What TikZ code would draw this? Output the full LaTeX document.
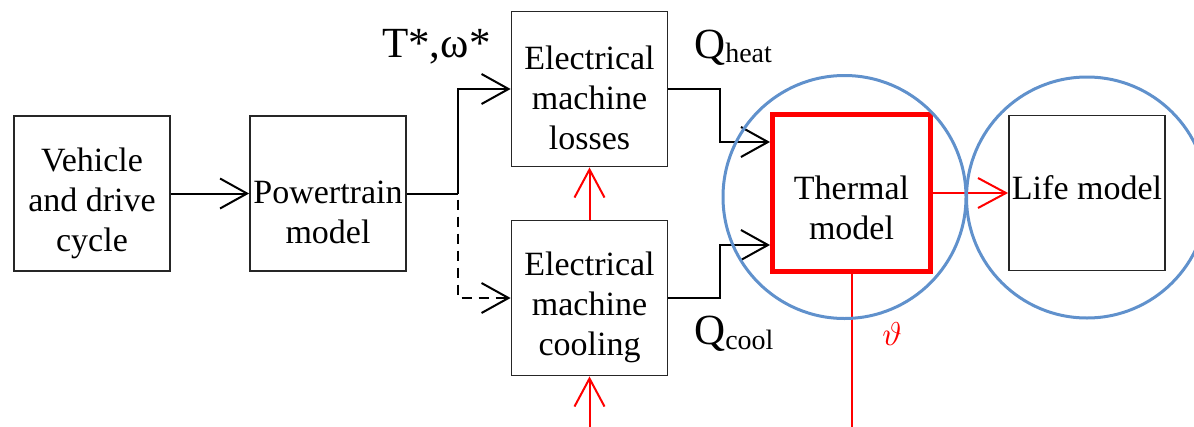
\documentclass[tikz,border=0pt]{standalone}
\usepackage{fontspec}
\IfFontExistsTF{LiberationSerif-Regular.ttf}
  {\newfontfamily\tnr{LiberationSerif}[Extension=.ttf,UprightFont=*-Regular,ItalicFont=*-Italic,BoldFont=*-Bold,BoldItalicFont=*-BoldItalic]}
  {\newfontfamily\tnr{Liberation Serif}}
\usetikzlibrary{arrows.meta}
\definecolor{cblue}{RGB}{96,145,204}
\definecolor{cred}{RGB}{255,0,0}
\begin{document}
\begin{tikzpicture}[x=1pt,y=-1pt,
  box/.style={draw=black!85,line width=1.8pt,minimum width=156pt,minimum height=155pt,inner sep=0pt},
  thbox/.style={draw=cred,line width=5pt,minimum width=158pt,minimum height=157pt,inner sep=0pt},
  txt/.style={align=center,font=\tnr\fontsize{34}{40}\selectfont,inner sep=0pt},
  arr/.style={line width=2pt,-{Straight Barb[length=27pt,width=30pt]}},
  rarr/.style={draw=cred,line width=2pt,-{Straight Barb[length=28pt,width=30pt]}},
  rline/.style={draw=cred,line width=2pt},
  ring/.style={circle,draw=cblue,line width=3pt,inner sep=0pt},
  lbl/.style={inner sep=0pt,anchor=base west,font=\tnr\fontsize{43}{43}\selectfont}]
\useasboundingbox (0,0) rectangle (1194,426);

% boxes
\node[box] (veh) at (92,193.5) {};
\node[box] (pt) at (328,193.5) {};
\node[box] (loss) at (589.5,89) {};
\node[box] (cool) at (589.5,298) {};
\node[thbox] (th) at (851.5,193) {};
\node[box] (life) at (1087,193) {};

% texts
\node[txt] (tveh) at (92,203) {Vehicle\\and drive\\cycle};
\node[txt] (tpt) at (328,212) {Powertrain\\model};
\node[txt] (tloss) at (589.5,98) {Electrical\\machine\\losses};
\node[txt] (tcool) at (589.5,307) {Electrical\\machine\\cooling};
\node[txt] (tth) at (851.5,208) {Thermal\\model};
\node[txt] (tlife) at (1087,188) {Life model};

% labels
\node[lbl] (lts) at (382,57) {T*,ω*};
\node[lbl] (lqh) at (694,58) {Q\raisebox{-4pt}{\fontsize{28}{28}\selectfont heat}};
\node[lbl] (lqc) at (694,344) {Q\raisebox{-5pt}{\fontsize{28}{28}\selectfont cool}};
\node[inner sep=0pt,text=cred,scale=3.3] (theta) at (892,334) {$\vartheta$};

% black connectors
\draw[arr] (veh.east) -- (pt.west);
\coordinate (br) at (458,193.5);
\draw[line width=2pt] (pt.east) -- (br);
\draw[arr] (br) |- (loss.west);
\draw[arr,dash pattern=on 10pt off 7pt] ([yshift=-6pt]br) |- (cool.west);
\draw[arr] (loss.east) -- ++(52,0) |- ([yshift=51pt]th.west);
\draw[arr] (cool.east) -- ++(52,0) |- ([yshift=-52pt]th.west);

% red connectors
\coordinate (cin) at (589.5,430);
\coordinate (tout) at (851.5,430);
\draw[rarr] (cool.north) -- (loss.south);
\draw[rarr] (cin) -- (cool.south);
\draw[rarr] (th.east) -- (life.west);
\draw[rline] (th.south) -- (tout);

% circles
\node[ring,minimum size=243pt] (c1) at (844.5,197) {};
\node[ring,minimum size=241pt] (c2) at (1087,197.5) {};
\end{tikzpicture}
\end{document}
